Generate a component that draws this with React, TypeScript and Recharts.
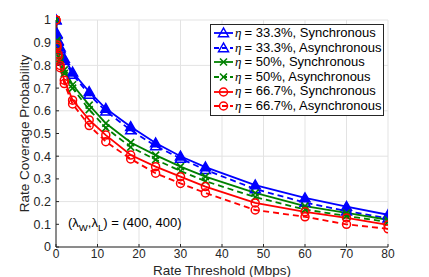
import {
  CartesianGrid,
  Label,
  Legend,
  Line,
  LineChart,
  XAxis,
  YAxis,
} from "recharts";

// rate thresholds (Mbps)
const rateThresholds = [0, 0.25, 0.5, 1, 2, 4, 8, 12, 18, 24, 30, 36, 48, 60, 70, 80];

const blueSync = [1.0, 0.94, 0.91, 0.88, 0.83, 0.77, 0.684, 0.61, 0.53, 0.458, 0.4, 0.352, 0.273, 0.216, 0.178, 0.142];
const blueAsync = [1.0, 0.935, 0.905, 0.872, 0.822, 0.76, 0.672, 0.598, 0.515, 0.445, 0.39, 0.34, 0.255, 0.196, 0.158, 0.127];
const greenSync = [1.0, 0.91, 0.87, 0.83, 0.78, 0.715, 0.625, 0.545, 0.46, 0.405, 0.354, 0.31, 0.238, 0.18, 0.15, 0.12];
const greenAsync = [1.0, 0.9, 0.86, 0.82, 0.765, 0.7, 0.605, 0.525, 0.44, 0.385, 0.335, 0.29, 0.22, 0.165, 0.137, 0.11];
const redSync = [1.0, 0.89, 0.85, 0.8, 0.735, 0.647, 0.56, 0.493, 0.405, 0.354, 0.31, 0.266, 0.194, 0.155, 0.128, 0.097];
const redAsync = [1.0, 0.88, 0.84, 0.79, 0.72, 0.63, 0.535, 0.464, 0.388, 0.325, 0.28, 0.238, 0.163, 0.133, 0.1, 0.08];

const xTicks = [0, 10, 20, 30, 40, 50, 60, 70, 80];
const yTicks = [0, 0.1, 0.2, 0.3, 0.4, 0.5, 0.6, 0.7, 0.8, 0.9, 1];

type Marker = "triangle" | "cross" | "circle";

type SeriesDef = {
  key: string;
  eta: string;
  mode: string;
  color: string;
  dashed: boolean;
  marker: Marker;
  values: number[];
};

const series: SeriesDef[] = [
  { key: "b1", eta: "33.3%", mode: "Synchronous", color: "#0000ff", dashed: false, marker: "triangle", values: blueSync },
  { key: "b2", eta: "33.3%", mode: "Asynchronous", color: "#0000ff", dashed: true, marker: "triangle", values: blueAsync },
  { key: "g1", eta: "50%", mode: "Synchronous", color: "#008000", dashed: false, marker: "cross", values: greenSync },
  { key: "g2", eta: "50%", mode: "Asynchronous", color: "#008000", dashed: true, marker: "cross", values: greenAsync },
  { key: "r1", eta: "66.7%", mode: "Synchronous", color: "#ff0000", dashed: false, marker: "circle", values: redSync },
  { key: "r2", eta: "66.7%", mode: "Asynchronous", color: "#ff0000", dashed: true, marker: "circle", values: redAsync },
];

const data = rateThresholds.map((x, i) => {
  const row: Record<string, number> = { x };
  series.forEach((s) => {
    row[s.key] = s.values[i];
  });
  return row;
});

const FONT = '"Liberation Sans", Arial, sans-serif';
const AXIS = "#262626";

function MarkerShape({
  cx,
  cy,
  kind,
  color,
  filled,
}: {
  cx: number;
  cy: number;
  kind: Marker;
  color: string;
  filled: boolean;
}) {
  if (kind === "triangle") {
    const r = 5;
    const pts = `${cx},${cy - r} ${cx - r},${cy + r * 0.75} ${cx + r},${cy + r * 0.75}`;
    return (
      <polygon
        points={pts}
        fill={filled ? color : "none"}
        stroke={color}
        strokeWidth={1.5}
      />
    );
  }
  if (kind === "cross") {
    const r = 3.5;
    return (
      <g stroke={color} strokeWidth={1.6}>
        <line x1={cx - r} y1={cy - r} x2={cx + r} y2={cy + r} />
        <line x1={cx - r} y1={cy + r} x2={cx + r} y2={cy - r} />
      </g>
    );
  }
  return (
    <circle cx={cx} cy={cy} r={4} fill="none" stroke={color} strokeWidth={1.5} />
  );
}

function makeDot(s: SeriesDef) {
  return (props: { cx?: number; cy?: number; index?: number }) => {
    const { cx, cy, index } = props;
    if (cx == null || cy == null) return <g key={`${s.key}-${index}`} />;
    return (
      <g key={`${s.key}-${index}`}>
        <MarkerShape
          cx={cx}
          cy={cy}
          kind={s.marker}
          color={s.color}
          filled={!s.dashed}
        />
      </g>
    );
  };
}

function ChartLegend() {
  return (
    <div
      style={{
        border: "1px solid #262626",
        background: "#ffffff",
        padding: "1px 2px 1px 2px",
        fontFamily: FONT,
        fontSize: 13,
        color: "#000",
        lineHeight: "14.6px",
        width: 174,
        boxSizing: "border-box",
      }}
    >
      {series.map((s) => (
        <div
          key={s.key}
          style={{ display: "flex", alignItems: "center", whiteSpace: "nowrap" }}
        >
          <svg width={21} height={14} style={{ flex: "none" }}>
            <line
              x1={1}
              y1={7}
              x2={20}
              y2={7}
              stroke={s.color}
              strokeWidth={1.8}
              strokeDasharray={s.dashed ? "5 3" : undefined}
            />
            <MarkerShape
              cx={10.5}
              cy={7}
              kind={s.marker}
              color={s.color}
              filled={false}
            />
          </svg>
          <span
            style={{
              fontFamily: '"Liberation Serif", serif',
              fontStyle: "italic",
              marginLeft: 1,
              marginRight: 3,
            }}
          >
            η
          </span>
          <span>
            = {s.eta}, {s.mode}
          </span>
        </div>
      ))}
    </div>
  );
}

export default function App() {
  return (
    <div
      style={{
        position: "absolute",
        left: 0,
        top: 0,
        width: 429,
        height: 277,
        background: "#ffffff",
      }}
    >
      <LineChart
        width={429}
        height={277}
        data={data}
        margin={{ top: 20, right: 41, left: 20, bottom: 0 }}
        style={{ fontFamily: FONT }}
      >
        <CartesianGrid stroke="#e3e3e3" strokeWidth={1} />
        <XAxis
          dataKey="x"
          type="number"
          domain={[0, 80]}
          ticks={xTicks}
          allowDataOverflow
          height={30}
          stroke={AXIS}
          tickSize={-3}
          tickMargin={5}
          tick={{ fill: AXIS, fontSize: 12 }}
        >
          <Label
            value="Rate Threshold (Mbps)"
            position="insideBottom"
            offset={2}
            style={{ fill: AXIS, fontSize: 13.5 }}
          />
        </XAxis>
        <XAxis
          xAxisId="top"
          dataKey="x"
          type="number"
          orientation="top"
          domain={[0, 80]}
          ticks={xTicks}
          height={0}
          stroke={AXIS}
          tickSize={-3}
          tick={false}
        />
        <YAxis
          type="number"
          domain={[0, 1]}
          ticks={yTicks}
          width={36}
          stroke={AXIS}
          tickSize={-3}
          tickMargin={8}
          tick={{ fill: AXIS, fontSize: 12.5 }}
          tickFormatter={(v: number) => String(Math.round(v * 10) / 10)}
        >
          <Label
            value="Rate Coverage Probability"
            angle={-90}
            position="insideLeft"
            offset={4}
            style={{ fill: AXIS, fontSize: 13.5, textAnchor: "middle" }}
          />
        </YAxis>
        <YAxis
          yAxisId="right"
          orientation="right"
          type="number"
          domain={[0, 1]}
          ticks={yTicks}
          width={0}
          stroke={AXIS}
          tickSize={-3}
          tick={false}
        />
        {series.map((s) => (
          <Line
            key={s.key}
            dataKey={s.key}
            type="linear"
            stroke={s.color}
            strokeWidth={1.8}
            strokeDasharray={s.dashed ? "6 4" : undefined}
            dot={makeDot(s)}
            activeDot={false}
            isAnimationActive={false}
          />
        ))}
        <Legend
          layout="vertical"
          align="center"
          verticalAlign="middle"
          content={() => <ChartLegend />}
          wrapperStyle={{ position: "absolute", left: 210, top: 24, width: 174 }}
        />
      </LineChart>
      <div
        style={{
          position: "absolute",
          left: 68,
          top: 215,
          fontFamily: FONT,
          fontSize: 13,
          color: "#000",
          whiteSpace: "nowrap",
        }}
      >
        (λ<sub style={{ fontSize: 9.5 }}>W</sub>,λ<sub style={{ fontSize: 9.5 }}>L</sub>) = (400, 400)
      </div>
    </div>
  );
}
